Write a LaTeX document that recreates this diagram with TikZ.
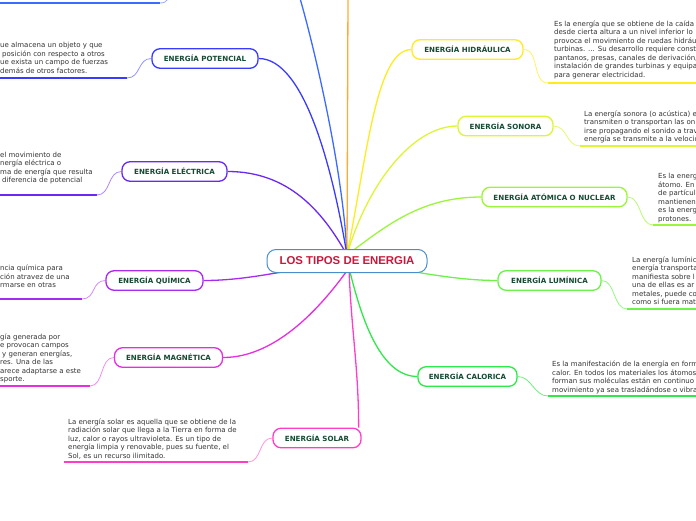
\documentclass[tikz,border=0pt]{standalone}
\usepackage{fontspec}
\setmainfont{DejaVu Sans}
\newfontfamily\titlefont{Liberation Sans}
\usetikzlibrary{calc}
\pgfdeclarelayer{bg}
\pgfsetlayers{bg,main}
\definecolor{labgreen}{HTML}{154A33}
\definecolor{notegray}{HTML}{333333}
\definecolor{titred}{HTML}{C8193C}
\definecolor{cCenter}{HTML}{4A8FCC}
\definecolor{cTop}{HTML}{3D6BFF}
\definecolor{cOrange}{HTML}{FFAA33}
\definecolor{cPot}{HTML}{3B3BFF}
\definecolor{cEle}{HTML}{6A28F5}
\definecolor{cQui}{HTML}{A52BEF}
\definecolor{cMag}{HTML}{E62EE0}
\definecolor{cSol}{HTML}{FF3DC8}
\definecolor{cHid}{HTML}{FFEB1F}
\definecolor{cSon}{HTML}{DDF533}
\definecolor{cAto}{HTML}{9CF53A}
\definecolor{cLum}{HTML}{6CF24A}
\definecolor{cCal}{HTML}{2FE84A}
\begin{document}
\begin{tikzpicture}[x=1pt,y=-1pt,
  topic/.style={draw, line width=1.3pt, rounded corners=8pt, fill=white,
    minimum height=19.5pt, inner sep=0pt,
    font=\bfseries\fontsize{7.1}{8}\selectfont, text=labgreen},
  note/.style={anchor=north west, align=left, inner sep=0pt,
    font=\fontsize{7}{8.5}\selectfont, text=notegray},
  conn/.style={line width=1.3pt},
  uline/.style={line width=2pt},
  link/.style={line width=0.8pt}]
\useasboundingbox (0,0) rectangle (696,520);
\clip (0,0) rectangle (696,520);

% central topic
\node[topic, draw=cCenter, line width=1pt, minimum width=160pt, minimum height=23pt,
  rounded corners=9pt, font=\titlefont\bfseries\fontsize{11.4}{13}\selectfont,
  text=titred] (c) at (347,261) {LOS TIPOS DE ENERGIA};

% hub points (hidden behind the central topic)
\coordinate (hubN) at (347,255);
\coordinate (hubM) at (347,262);
\coordinate (hubS) at (349,268);
\coordinate (topA) at (299,-5);
\coordinate (topB) at (348,-5);

% subtopics
\node[topic, draw=cPot, minimum width=106pt] (pot) at (205,58.5) {ENERGÍA POTENCIAL};
\node[topic, draw=cEle, minimum width=105pt] (ele) at (174.5,171.5) {ENERGÍA ELÉCTRICA};
\node[topic, draw=cQui, minimum width=97pt] (qui) at (154.5,280.5) {ENERGÍA QUÍMICA};
\node[topic, draw=cMag, minimum width=108pt] (mag) at (168.5,357.5) {ENERGÍA MAGNÉTICA};
\node[topic, draw=cSol, minimum width=88pt] (sol) at (317,438) {ENERGÍA SOLAR};
\node[topic, draw=cHid, minimum width=111pt] (hid) at (467.5,49.5) {ENERGÍA HIDRÁULICA};
\node[topic, draw=cSon, minimum width=95pt] (son) at (505.5,126) {ENERGÍA SONORA};
\node[topic, draw=cAto, minimum width=145pt] (ato) at (554.5,197) {ENERGÍA ATÓMICA O NUCLEAR};
\node[topic, draw=cLum, minimum width=103pt] (lum) at (549.5,280.5) {ENERGÍA LUMÍNICA};
\node[topic, draw=cCal, minimum width=99pt] (cal) at (467.5,376.5) {ENERGÍA CALORICA};

% notes
\node[note] (potT) at (0,42.3) {ue almacena un objeto y que\\\hspace{2pt}posición con respecto a otros\\ue exista un campo de fuerzas\\demás de otros factores.};
\node[note] (eleT) at (0,151.5) {el movimiento de\\nergía eléctrica o\\ma de energía que resulta\\\hspace{2pt}diferencia de potencial};
\node[note] (quiT) at (0,265) {ncia química para\\ción atravez de una\\rmarse en otras};
\node[note] (magT) at (0,333.5) {gía generada por\\e provocan campos\\\hspace{2pt}y generan energías,\\res. Una de las\\arece adaptarse a este\\sporte.};
\node[note] (solT) at (68,418.5) {La energía solar es aquella que se obtiene de la\\radiación solar que llega a la Tierra en forma de\\luz, calor o rayos ultravioleta. Es un tipo de\\energía limpia y renovable, pues su fuente, el\\Sol, es un recurso ilimitado.};
\node[note] (hidT) at (554,20.5) {Es la energía que se obtiene de la caída\\desde cierta altura a un nivel inferior lo\\provoca el movimiento de ruedas hidráu\\turbinas. ... Su desarrollo requiere const\\pantanos, presas, canales de derivación,\\instalación de grandes turbinas y equipa\\para generar electricidad.};
\node[note] (sonT) at (584,110.5) {La energía sonora (o acústica) e\\transmiten o transportan las on\\irse propagando el sonido a trav\\energía se transmite a la velocid};
\node[note] (atoT) at (658,173) {Es la energ\\átomo. En\\de partícul\\mantienen\\es la energ\\protones.};
\node[note] (lumT) at (632,256.5) {La energía lumínic\\energía transporta\\manifiesta sobre l\\una de ellas es ar\\metales, puede co\\como si fuera mat};
\node[note] (calT) at (552,361) {Es la manifestación de la energía en form\\calor. En todos los materiales los átomos\\forman sus moléculas están en continuo\\movimiento ya sea trasladándose o vibra};

% underline end points
\coordinate (tlU) at (160,3);   \coordinate (tlL) at (-5,3);  \coordinate (tlE) at (171,-8);
\coordinate (potU) at (127,78); \coordinate (potL) at (-5,78);
\coordinate (eleU) at (97,195); \coordinate (eleL) at (-5,195);
\coordinate (quiU) at (82,299); \coordinate (quiL) at (-5,299);
\coordinate (magU) at (90,386); \coordinate (magL) at (-5,386);
\coordinate (solU) at (248,462); \coordinate (solL) at (64,462);
\coordinate (hidU) at (548,83); \coordinate (hidR) at (701,83);
\coordinate (sonU) at (580,146); \coordinate (sonR) at (701,146);
\coordinate (atoU) at (653,225); \coordinate (atoR) at (701,225);
\coordinate (lumU) at (627,309); \coordinate (lumR) at (701,309);
\coordinate (calU) at (548,396); \coordinate (calR) at (701,396);

\begin{pgfonlayer}{bg}
% main connectors
\draw[conn, cTop] (topA) .. controls +(12,40) and +(-4,-90) .. (hubN);
\draw[conn, cOrange] (topB) -- (hubN);
\draw[conn, cPot] (pot.east) .. controls +(45,0) and +(-15,-90) .. (hubN);
\draw[conn, cEle] (ele.east) .. controls +(60,0) and +(-25,-45) .. (hubN);
\draw[conn, cQui] (qui.east) .. controls +(50,0) and +(-50,5) .. (hubM);
\draw[conn, cMag] (mag.east) .. controls +(55,0) and +(-25,35) .. (hubS);
\draw[conn, cSol] ($(sol.north east)+(-3,0)$) .. controls +(0,-60) and +(2,60) .. (hubS);
\draw[conn, cHid] (hid.west) .. controls +(-35,0) and +(20,-100) .. (hubN);
\draw[conn, cSon] (son.west) .. controls +(-45,0) and +(20,-70) .. (hubN);
\draw[conn, cAto] (ato.west) .. controls +(-60,0) and +(40,-30) .. (hubN);
\draw[conn, cLum] (lum.west) .. controls +(-50,0) and +(50,5) .. (hubM);
\draw[conn, cCal] (cal.west) .. controls +(-40,0) and +(10,40) .. (hubS);

% note underlines
\draw[uline, cTop] (tlL) -- (tlU);
\draw[link, cTop!55] (tlU) .. controls +(8,0) and +(-3,6) .. (tlE);
\draw[uline, cPot] (potL) -- (potU);
\draw[link, cPot!55] (pot.west) .. controls +(-14,0) and +(14,0) .. (potU);
\draw[uline, cEle] (eleL) -- (eleU);
\draw[link, cEle!55] (ele.west) .. controls +(-14,0) and +(14,0) .. (eleU);
\draw[uline, cQui] (quiL) -- (quiU);
\draw[link, cQui!55] (qui.west) .. controls +(-14,0) and +(14,0) .. (quiU);
\draw[uline, cMag] (magL) -- (magU);
\draw[link, cMag!55] (mag.west) .. controls +(-14,0) and +(14,0) .. (magU);
\draw[uline, cSol] (solL) -- (solU);
\draw[link, cSol!55] (sol.west) .. controls +(-14,0) and +(14,0) .. (solU);
\draw[uline, cHid] (hidU) -- (hidR);
\draw[link, cHid!70] (hid.east) .. controls +(16,0) and +(-16,0) .. (hidU);
\draw[uline, cSon] (sonU) -- (sonR);
\draw[link, cSon!70] (son.east) .. controls +(14,0) and +(-14,0) .. (sonU);
\draw[uline, cAto] (atoU) -- (atoR);
\draw[link, cAto!70] (ato.east) .. controls +(14,0) and +(-14,0) .. (atoU);
\draw[uline, cLum] (lumU) -- (lumR);
\draw[link, cLum!70] (lum.east) .. controls +(14,0) and +(-14,0) .. (lumU);
\draw[uline, cCal] (calU) -- (calR);
\draw[link, cCal!70] (cal.east) .. controls +(14,0) and +(-14,0) .. (calU);
\end{pgfonlayer}
\end{tikzpicture}
\end{document}
